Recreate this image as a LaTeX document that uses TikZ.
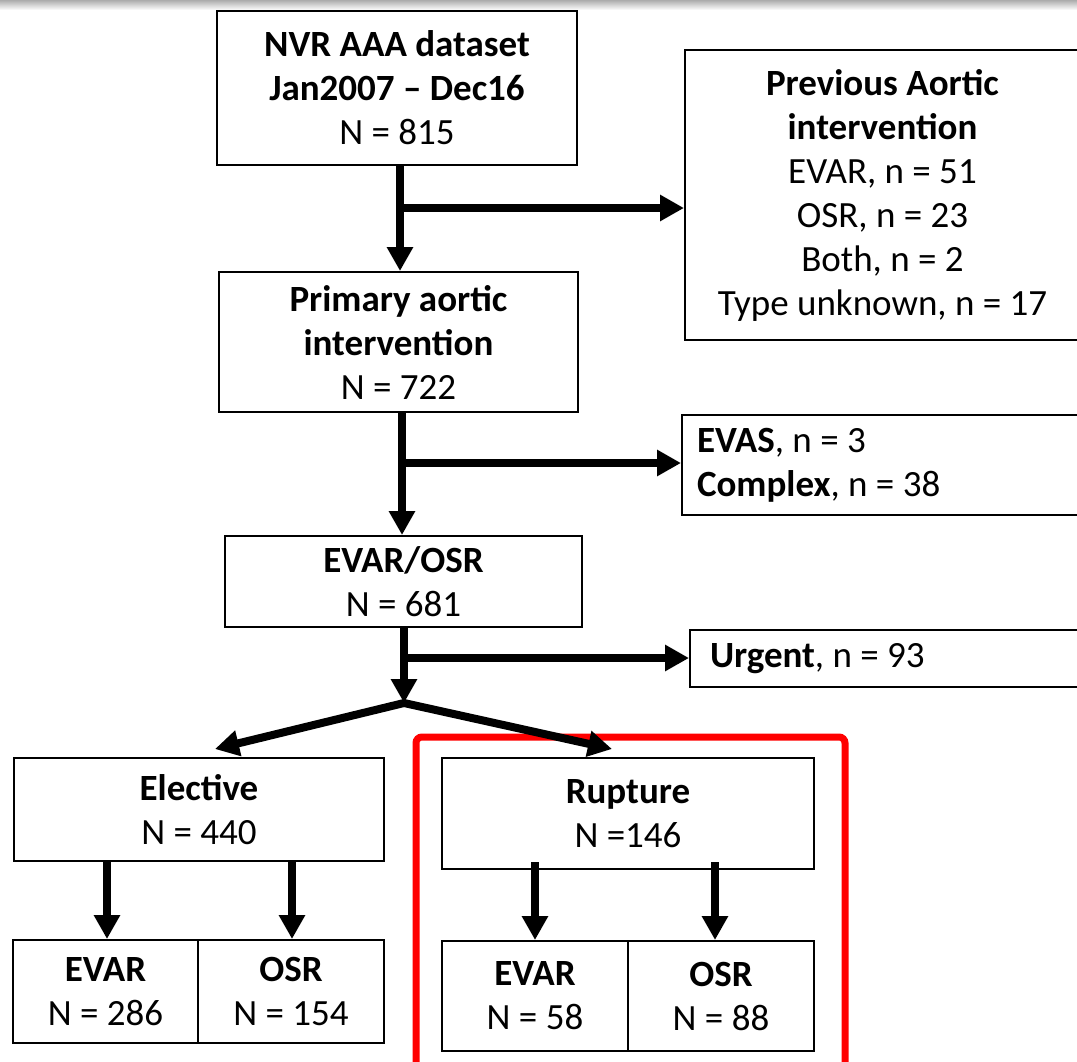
\documentclass[tikz,border=0pt]{standalone}
\usepackage{fontspec}
\setmainfont{Carlito}
\usepackage{tikz}
\usetikzlibrary{arrows.meta}

\begin{document}
\begin{tikzpicture}[x=1pt,y=-1pt,
  box/.style={draw=black,line width=2pt,inner sep=0pt,align=center,font=\fontsize{37}{44}\selectfont},
  lbox/.style={box,align=flush left},
  tip/.tip={Triangle[width=25pt,length=24pt]},
  flow/.style={line width=8pt,-tip},
  focus/.style={draw=red,line width=7pt,rounded corners=6pt}]
\useasboundingbox (0,0) rectangle (1077,1061);
\clip (0,0) rectangle (1077,1061);
\shade[top color=gray!65,bottom color=white] (0,0) rectangle (1077,10);

\node [box,minimum width=360pt,minimum height=154pt] (data) at (397,88)
  {\textbf{NVR AAA dataset}\\\textbf{Jan2007 – Dec16}\\N = 815};
\node [box,minimum width=395pt,minimum height=290pt] (prev) at (882.5,195)
  {\textbf{Previous Aortic}\\\textbf{intervention}\\EVAR, n = 51\\OSR, n = 23\\Both, n = 2\\Type unknown, n = 17};
\node [box,minimum width=359pt,minimum height=140pt] (prim) at (398.5,342)
  {\textbf{Primary aortic}\\\textbf{intervention}\\N = 722};
\node [lbox,inner xsep=15pt,text width=373pt,minimum height=100pt] (evas) at (883.5,465)
  {\spaceskip=0pt\xspaceskip=0pt\relax\textbf{EVAS}, n = 3\\\textbf{Complex}, n = 38};
\node [box,minimum width=357pt,minimum height=91pt] (evor) at (403.5,581.5)
  {\textbf{EVAR/OSR}\\N = 681};
\node [lbox,inner xsep=20pt,text width=355pt,minimum height=57pt] (urg) at (887.5,658.5)
  {\spaceskip=0pt\xspaceskip=0pt\relax\textbf{Urgent}, n = 93};

\node [box,minimum width=370pt,minimum height=103pt] (elec) at (199,809.5)
  {\textbf{Elective}\\N = 440};
\node [box,minimum width=185pt,minimum height=103pt] (eevar) at (105.5,991.5)
  {\textbf{EVAR}\\N = 286};
\node [box,minimum width=186pt,minimum height=103pt] (eosr) at (291,991.5)
  {\textbf{OSR}\\N = 154};

\draw [focus] (416,737) rectangle (845,1080);
\node [box,minimum width=372pt,minimum height=111pt] (rup) at (628,813.5)
  {\textbf{Rupture}\\N =146};
\node [box,minimum width=186pt,minimum height=110pt] (revar) at (535,996)
  {\textbf{EVAR}\\N = 58};
\node [box,minimum width=186pt,minimum height=110pt] (rosr) at (721,996)
  {\textbf{OSR}\\N = 88};

\coordinate (j1) at (400,208);
\coordinate (j2) at (402,463);
\coordinate (j3) at (404,658);
\coordinate (split) at (404,703);
\coordinate (elecin) at (215,749);
\coordinate (rupin) at (612,749);

\draw [flow] (j1 |- data.south) -- (j1 |- prim.north);
\draw [flow] (j1) -- (j1 -| prev.west);
\draw [flow] (j2 |- prim.south) -- (j2 |- evor.north);
\draw [flow] (j2) -- (j2 -| evas.west);
\draw [flow] (j3 |- evor.south) -- (split);
\draw [flow] (j3) -- (j3 -| urg.west);
\draw [line width=8pt,tip-tip,line join=miter] (elecin) -- (split) -- (rupin);

\draw [flow] ([xshift=1.5pt]eevar.north |- elec.south) -- ([xshift=1.5pt]eevar.north);
\draw [flow] ([xshift=1pt]eosr.north |- elec.south) -- ([xshift=1pt]eosr.north);
\draw [flow] (revar.north |- 0,862) -- (revar.north);
\draw [flow] ([xshift=-6pt]rosr.north |- 0,862) -- ([xshift=-6pt]rosr.north);
\end{tikzpicture}
\end{document}
